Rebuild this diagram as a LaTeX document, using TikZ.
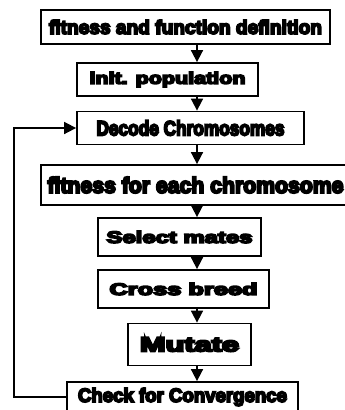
\documentclass[tikz,border=0pt]{standalone}
\usepackage{fontspec}
\setmainfont{Liberation Sans}
\newfontfamily\heavyfont{Liberation Sans Bold}[FakeBold=9]
\usepackage{tikz}
\usetikzlibrary{positioning, calc, arrows.meta}
\newcommand{\boxtext}[3]{\resizebox{#1pt}{#2pt}{\heavyfont #3}}
\tikzset{
	stepbox/.style={draw, line width=1.8pt, inner sep=0pt, fill=white}
}
\tikzset{
	downhead/.style={line width=1.7pt, -{Triangle[length=12pt, width=12pt]}}
}

\begin{document}
\begin{tikzpicture}[x=1pt, y=-1pt]

			\useasboundingbox (0,0) rectangle (345,410);

			\begin{scope}
				\coordinate (sA) at (185.5,27);
				\coordinate (sB) at (167.5,79.5);
				\coordinate (sC) at (190.5,128);
				\coordinate (sD) at (195.5,185);
				\coordinate (sE) at (179.5,237);
				\coordinate (sF) at (183.5,289);
				\coordinate (sG) at (189.5,344.5);
				\coordinate (sH) at (182.5,397);

				\node[stepbox, minimum width=289pt, minimum height=34pt] (fitdef) at (sA) {\boxtext{273}{14}{fitness and function definition}};
				\node[stepbox, minimum width=181pt, minimum height=33pt] (init) at (sB) {\boxtext{156}{12}{init. population}};
				\node[stepbox, minimum width=227pt, minimum height=33pt] (decode) at (sC) {\boxtext{188}{15}{Decode Chromosomes}};
				\node[stepbox, minimum width=309pt, minimum height=40pt] (fiteach) at (sD) {\boxtext{296}{16}{fitness for each chromosome}};
				\node[stepbox, minimum width=163pt, minimum height=38pt] (select) at (sE) {\boxtext{146}{12}{Select mates}};
				\node[stepbox, minimum width=171pt, minimum height=38pt] (cross) at (sF) {\boxtext{148}{12}{Cross breed}};
				\node[stepbox, minimum width=123pt, minimum height=42pt] (mutate) at (sG) {\boxtext{99}{14}{Mutate}};
				\node[stepbox, minimum width=231pt, minimum height=30pt] (check) at (sH) {\boxtext{209}{14}{Check for Convergence}};
			\end{scope}

			\begin{scope}
				\coordinate (ax) at (197,0);

				\draw[downhead] (fitdef.south -| ax) -- (init.north -| ax);
				\draw[downhead] (init.south -| ax) -- (decode.north -| ax);
				\draw[downhead] (decode.south -| ax) -- (fiteach.north -| ax);
				\draw[downhead] (fiteach.south -| ax) -- (select.north -| ax);
				\draw[downhead] (select.south -| ax) -- (cross.north -| ax);
				\draw[downhead] (cross.south -| ax) -- (mutate.north -| ax);
				\draw[downhead] (mutate.south -| ax) -- (check.north -| ax);

				% loop back
				\coordinate (lx) at (14,0);
				\draw[downhead] (check.west) -- (check.west -| lx) -- (decode.west -| lx) -- (decode.west);
			\end{scope}

		\end{tikzpicture}
\end{document}
